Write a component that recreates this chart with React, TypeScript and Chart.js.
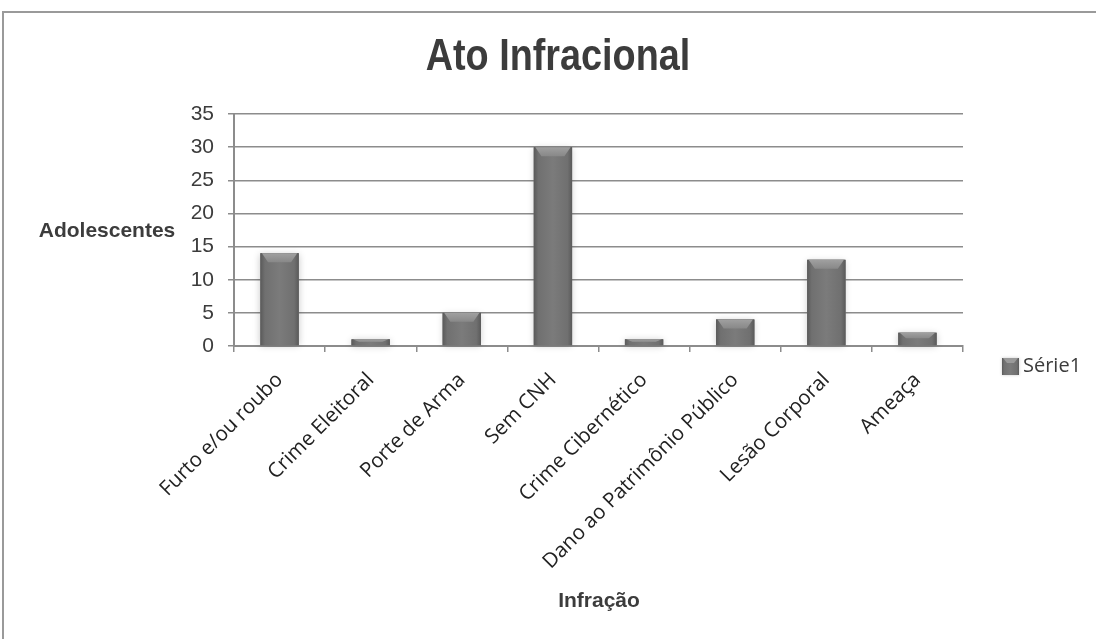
import React, { useEffect, useRef } from 'react';
import { Chart, registerables } from 'chart.js';

Chart.register(...registerables);

const categories = [
  'Furto e/ou roubo',
  'Crime Eleitoral',
  'Porte de Arma',
  'Sem CNH',
  'Crime Cibernético',
  'Dano ao Patrimônio Público',
  'Lesão Corporal',
  'Ameaça',
];
const values = [14, 1, 5, 30, 1, 4, 13, 2];
const seriesName = 'Série1';
const yMin = 0;
const yMax = 35;
const yStep = 5;
const chartTitle = 'Ato Infracional';
const yAxisTitle = 'Adolescentes';
const xAxisTitle = 'Infração';

const GRID = '#8c8c8c';
const TEXT = '#3c3c3c';

function barGradient(ctx: CanvasRenderingContext2D, left: number, right: number) {
  const g = ctx.createLinearGradient(left, 0, right, 0);
  g.addColorStop(0, '#5a5a5a');
  g.addColorStop(0.12, '#707070');
  g.addColorStop(0.5, '#7b7b7b');
  g.addColorStop(0.88, '#707070');
  g.addColorStop(1, '#5a5a5a');
  return g;
}

const decor = {
  id: 'decor',
  beforeDraw(chart: any) {
    const { ctx, width, height } = chart;
    ctx.save();
    ctx.fillStyle = '#ffffff';
    ctx.fillRect(0, 0, width, height);
    ctx.strokeStyle = '#9a9a9a';
    ctx.lineWidth = 2;
    ctx.beginPath();
    ctx.moveTo(3, height + 5);
    ctx.lineTo(3, 12);
    ctx.lineTo(width + 5, 12);
    ctx.stroke();
    ctx.restore();
  },
  beforeDatasetsDraw(chart: any) {
    const { ctx } = chart;
    const meta = chart.getDatasetMeta(0);
    ctx.save();
    meta.data.forEach((bar: any) => {
      const left = bar.x - bar.width / 2;
      const top = Math.min(bar.y, bar.base);
      const h = Math.abs(bar.base - bar.y);
      ctx.shadowColor = 'rgba(0,0,0,0.22)';
      ctx.shadowBlur = 7;
      ctx.shadowOffsetX = 0;
      ctx.shadowOffsetY = 1;
      ctx.fillStyle = '#777';
      ctx.fillRect(left, top, bar.width, h);
    });
    ctx.restore();
  },
  afterDatasetsDraw(chart: any) {
    const { ctx } = chart;
    const meta = chart.getDatasetMeta(0);
    ctx.save();
    meta.data.forEach((bar: any) => {
      const left = bar.x - bar.width / 2;
      const right = bar.x + bar.width / 2;
      const top = Math.min(bar.y, bar.base);
      const h = Math.abs(bar.base - bar.y);
      ctx.fillStyle = barGradient(ctx, left, right);
      ctx.fillRect(left, top, bar.width, h);
      const bh = Math.min(9, h * 0.45);
      const inset = Math.min(9, bar.width * 0.2);
      const vg = ctx.createLinearGradient(0, top, 0, top + bh);
      vg.addColorStop(0, '#a0a0a0');
      vg.addColorStop(1, '#888888');
      ctx.fillStyle = vg;
      ctx.beginPath();
      ctx.moveTo(left + 1.5, top);
      ctx.lineTo(right - 1.5, top);
      ctx.lineTo(right - inset, top + bh);
      ctx.lineTo(left + inset, top + bh);
      ctx.closePath();
      ctx.fill();
    });
    ctx.restore();
  },
  afterDraw(chart: any) {
    const { ctx } = chart;
    ctx.save();
    ctx.fillStyle = TEXT;
    ctx.textAlign = 'center';
    ctx.textBaseline = 'middle';
    // condensed bold title (narrow face is not installed, so compress horizontally)
    ctx.save();
    ctx.translate(558, 58);
    ctx.scale(0.84, 1);
    ctx.font = 'bold 45px "Liberation Sans Narrow", "Liberation Sans", sans-serif';
    ctx.fillText(chartTitle, 0, 0);
    ctx.restore();

    ctx.font = 'bold 21px "Liberation Sans", Arial, sans-serif';
    ctx.fillText(yAxisTitle, 107, 231);
    ctx.fillText(xAxisTitle, 599, 601);

    // legend
    const bx = 1002, by = 358, bs = 17;
    ctx.shadowColor = 'rgba(0,0,0,0.2)';
    ctx.shadowBlur = 3;
    ctx.fillStyle = '#777';
    ctx.fillRect(bx, by, bs, bs);
    ctx.shadowColor = 'transparent';
    ctx.shadowBlur = 0;
    ctx.fillStyle = barGradient(ctx, bx, bx + bs);
    ctx.fillRect(bx, by, bs, bs);
    ctx.fillStyle = '#9a9a9a';
    ctx.beginPath();
    ctx.moveTo(bx + 1, by);
    ctx.lineTo(bx + bs - 1, by);
    ctx.lineTo(bx + bs - 5, by + 5);
    ctx.lineTo(bx + 5, by + 5);
    ctx.closePath();
    ctx.fill();
    ctx.fillStyle = TEXT;
    ctx.textAlign = 'left';
    ctx.font = '20px "Open Sans", sans-serif';
    ctx.fillText(chart.data.datasets[0].label, 1023, 366);
    ctx.restore();
  },
};

export default function App() {
  const ref = useRef<HTMLCanvasElement | null>(null);

  useEffect(() => {
    if (!ref.current) return;
    const chart = new Chart(ref.current, {
      type: 'bar',
      data: {
        labels: categories,
        datasets: [
          {
            label: seriesName,
            data: values,
            backgroundColor: '#777777',
            borderWidth: 0,
            barPercentage: 0.42,
            categoryPercentage: 1,
          },
        ],
      },
      options: {
        responsive: false,
        animation: false,
        devicePixelRatio: 1,
        layout: { padding: { top: 114, right: 133, left: 0, bottom: 0 } },
        plugins: {
          legend: { display: false },
          tooltip: { enabled: false },
          title: { display: false },
        },
        scales: {
          x: {
            offset: true,
            grid: {
              display: true,
              drawOnChartArea: false,
              drawTicks: true,
              tickLength: 6,
              color: GRID,
              lineWidth: 1.5,
              offset: true,
            },
            border: { display: true, color: GRID, width: 2 },
            ticks: {
              minRotation: 45,
              maxRotation: 45,
              autoSkip: false,
              padding: 16,
              color: '#222',
              font: { family: '"Open Sans", sans-serif', size: 20.5 },
            },
            afterFit: (scale: any) => {
              scale.height = 293;
            },
          },
          y: {
            min: yMin,
            max: yMax,
            ticks: {
              stepSize: yStep,
              padding: 14,
              color: TEXT,
              font: { family: '"Liberation Sans", Arial, sans-serif', size: 21 },
            },
            grid: {
              color: GRID,
              lineWidth: 1.5,
              tickLength: 6,
              drawTicks: true,
            },
            border: { display: true, color: GRID, width: 2 },
            afterFit: (scale: any) => {
              scale.width = 234;
            },
          },
        },
      },
      plugins: [decor],
    } as any);
    return () => chart.destroy();
  }, []);

  return (
    <div style={{ position: 'fixed', left: 0, top: 0, width: 1096, height: 639, background: '#fff' }}>
      <canvas ref={ref} width={1096} height={639} style={{ display: 'block' }} />
    </div>
  );
}
